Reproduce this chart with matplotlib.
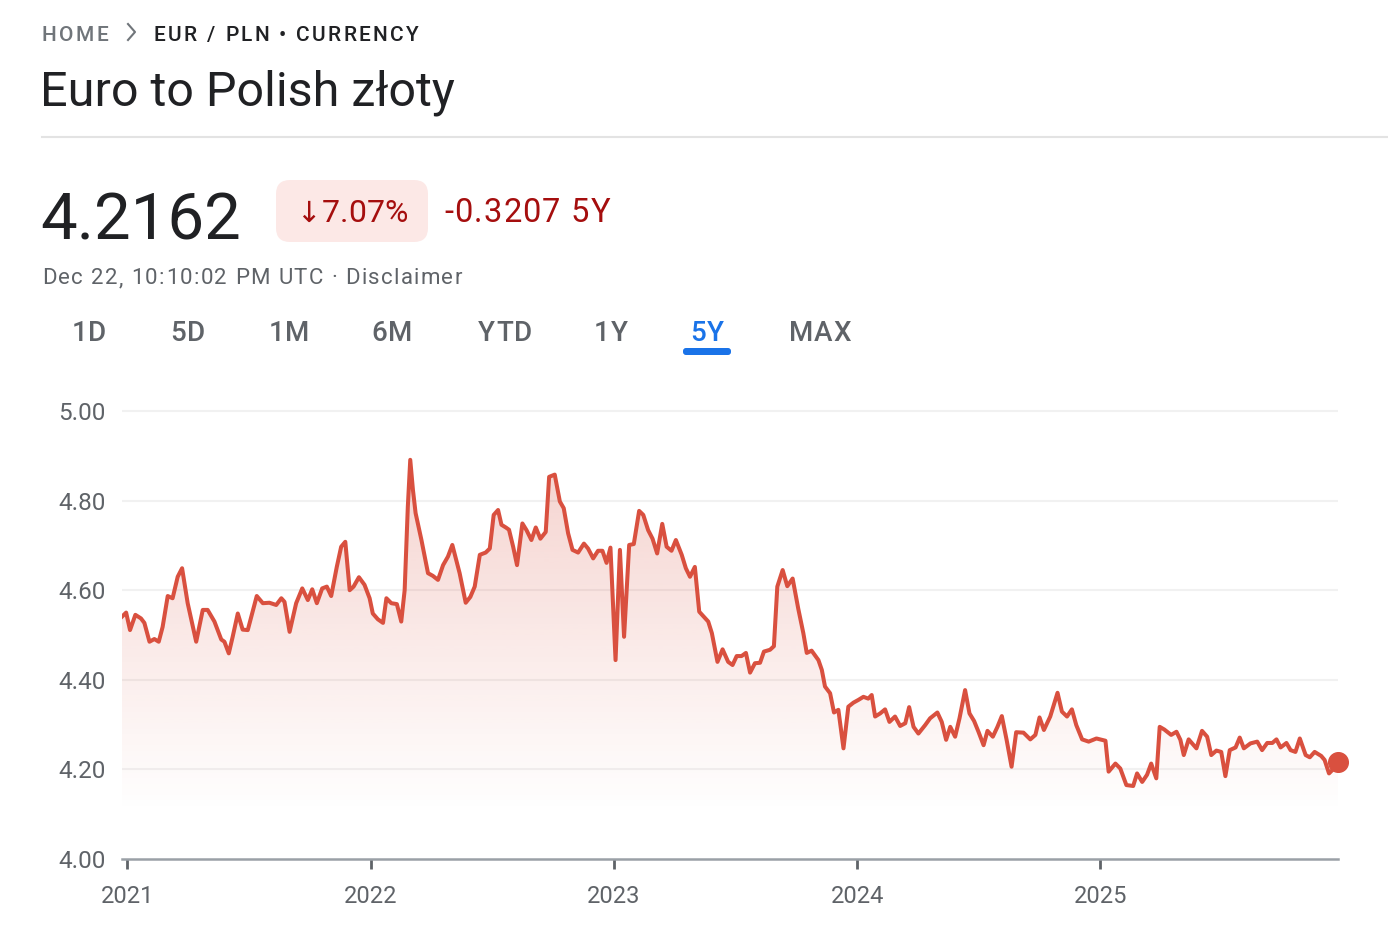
import numpy as np
import matplotlib
matplotlib.use('Agg')
import matplotlib.pyplot as plt
from matplotlib.patches import FancyBboxPatch, Polygon
from matplotlib.font_manager import findfont, FontProperties
from matplotlib.ft2font import FT2Font

# EUR/PLN, 5Y view (time as decimal year)
t_year = [2020.978, 2020.995, 2021.011, 2021.033, 2021.056, 2021.070, 2021.091, 2021.111, 2021.129, 2021.145,
          2021.166, 2021.186, 2021.207, 2021.225, 2021.248, 2021.283, 2021.310, 2021.330, 2021.358, 2021.386,
          2021.399, 2021.417, 2021.433, 2021.454, 2021.474, 2021.495, 2021.532, 2021.557, 2021.584, 2021.612,
          2021.633, 2021.646, 2021.667, 2021.694, 2021.719, 2021.742, 2021.760, 2021.779, 2021.801, 2021.820,
          2021.838, 2021.861, 2021.879, 2021.896, 2021.914, 2021.930, 2021.952, 2021.975, 2021.996, 2022.009,
          2022.030, 2022.051, 2022.065, 2022.085, 2022.108, 2022.126, 2022.140, 2022.153, 2022.163, 2022.174,
          2022.185, 2022.209, 2022.236, 2022.256, 2022.277, 2022.298, 2022.318, 2022.336, 2022.366, 2022.391,
          2022.410, 2022.428, 2022.449, 2022.473, 2022.490, 2022.506, 2022.524, 2022.538, 2022.556, 2022.569,
          2022.586, 2022.602, 2022.624, 2022.641, 2022.661, 2022.679, 2022.698, 2022.720, 2022.734, 2022.757,
          2022.778, 2022.794, 2022.812, 2022.830, 2022.853, 2022.877, 2022.894, 2022.915, 2022.935, 2022.953,
          2022.970, 2022.986, 2023.007, 2023.025, 2023.042, 2023.063, 2023.082, 2023.104, 2023.121, 2023.141,
          2023.159, 2023.178, 2023.199, 2023.217, 2023.237, 2023.255, 2023.279, 2023.296, 2023.313, 2023.333,
          2023.351, 2023.388, 2023.403, 2023.426, 2023.447, 2023.470, 2023.488, 2023.505, 2023.525, 2023.543,
          2023.560, 2023.580, 2023.601, 2023.617, 2023.642, 2023.658, 2023.672, 2023.694, 2023.713, 2023.735,
          2023.758, 2023.779, 2023.793, 2023.813, 2023.841, 2023.855, 2023.868, 2023.889, 2023.905, 2023.923,
          2023.944, 2023.964, 2023.985, 2024.005, 2024.026, 2024.046, 2024.060, 2024.074, 2024.095, 2024.115,
          2024.133, 2024.156, 2024.177, 2024.198, 2024.214, 2024.232, 2024.252, 2024.280, 2024.300, 2024.330,
          2024.348, 2024.366, 2024.383, 2024.403, 2024.421, 2024.444, 2024.462, 2024.481, 2024.499, 2024.520,
          2024.536, 2024.558, 2024.577, 2024.595, 2024.615, 2024.635, 2024.654, 2024.684, 2024.712, 2024.733,
          2024.750, 2024.768, 2024.794, 2024.824, 2024.842, 2024.863, 2024.883, 2024.901, 2024.925, 2024.952,
          2024.984, 2025.021, 2025.034, 2025.062, 2025.082, 2025.107, 2025.135, 2025.151, 2025.172, 2025.192,
          2025.209, 2025.230, 2025.244, 2025.263, 2025.291, 2025.313, 2025.329, 2025.343, 2025.363, 2025.395,
          2025.418, 2025.439, 2025.456, 2025.477, 2025.497, 2025.514, 2025.532, 2025.556, 2025.573, 2025.590,
          2025.617, 2025.645, 2025.665, 2025.686, 2025.707, 2025.724, 2025.741, 2025.765, 2025.782, 2025.802,
          2025.820, 2025.844, 2025.861, 2025.881, 2025.908, 2025.922, 2025.940, 2025.960, 2025.977]
eur_pln = [4.541, 4.550, 4.511, 4.545, 4.537, 4.527, 4.485, 4.491, 4.485, 4.518,
           4.587, 4.582, 4.630, 4.649, 4.571, 4.485, 4.556, 4.556, 4.530, 4.490,
           4.485, 4.459, 4.496, 4.548, 4.512, 4.511, 4.587, 4.571, 4.572, 4.567,
           4.582, 4.574, 4.507, 4.571, 4.604, 4.578, 4.602, 4.571, 4.604, 4.608,
           4.587, 4.652, 4.697, 4.708, 4.600, 4.608, 4.629, 4.612, 4.582, 4.548,
           4.535, 4.527, 4.582, 4.571, 4.569, 4.530, 4.600, 4.786, 4.891, 4.824,
           4.772, 4.712, 4.638, 4.632, 4.623, 4.656, 4.675, 4.701, 4.638, 4.572,
           4.585, 4.608, 4.679, 4.684, 4.693, 4.768, 4.779, 4.746, 4.740, 4.735,
           4.697, 4.656, 4.749, 4.734, 4.712, 4.740, 4.715, 4.730, 4.853, 4.858,
           4.798, 4.783, 4.727, 4.690, 4.684, 4.704, 4.693, 4.671, 4.688, 4.688,
           4.661, 4.695, 4.444, 4.690, 4.496, 4.701, 4.703, 4.777, 4.768, 4.734,
           4.715, 4.682, 4.748, 4.697, 4.688, 4.712, 4.679, 4.649, 4.630, 4.652,
           4.552, 4.530, 4.504, 4.440, 4.468, 4.440, 4.433, 4.453, 4.453, 4.460,
           4.416, 4.437, 4.438, 4.463, 4.467, 4.475, 4.608, 4.645, 4.609, 4.626,
           4.559, 4.504, 4.460, 4.465, 4.444, 4.422, 4.385, 4.370, 4.327, 4.333,
           4.247, 4.340, 4.349, 4.355, 4.362, 4.358, 4.366, 4.318, 4.325, 4.334,
           4.306, 4.318, 4.297, 4.303, 4.339, 4.295, 4.280, 4.299, 4.314, 4.327,
           4.306, 4.266, 4.295, 4.273, 4.314, 4.377, 4.325, 4.308, 4.284, 4.254,
           4.286, 4.273, 4.295, 4.319, 4.265, 4.206, 4.283, 4.282, 4.267, 4.277,
           4.316, 4.288, 4.318, 4.371, 4.329, 4.318, 4.334, 4.299, 4.267, 4.262,
           4.269, 4.264, 4.195, 4.213, 4.202, 4.165, 4.163, 4.191, 4.172, 4.188,
           4.213, 4.180, 4.295, 4.289, 4.277, 4.284, 4.266, 4.232, 4.267, 4.247,
           4.286, 4.273, 4.232, 4.242, 4.239, 4.185, 4.243, 4.249, 4.271, 4.247,
           4.258, 4.262, 4.243, 4.259, 4.259, 4.267, 4.249, 4.259, 4.243, 4.239,
           4.269, 4.232, 4.227, 4.239, 4.230, 4.221, 4.191, 4.202, 4.2162]

year_ticks = [2021, 2022, 2023, 2024, 2025]
y_ticks = [4.00, 4.20, 4.40, 4.60, 4.80, 5.00]
tabs = ['1D', '5D', '1M', '6M', 'YTD', '1Y', '5Y', 'MAX']
tab_x = [89, 188, 289, 392, 505, 611, 707, 820]

# colours
c_line = '#d9503f'
c_grey = '#5f6368'
c_dark = '#202124'
c_red_txt = '#a50e0e'
c_blue = '#1a73e8'

plt.rcParams['font.family'] = ['Roboto', 'DejaVu Sans']

fig = plt.figure(figsize=(13.88, 9.36), dpi=100)
fig.patch.set_facecolor('white')

# header overlay in pixel coords
hdr = fig.add_axes([0, 0, 1, 1])
hdr.set_xlim(0, 1388)
hdr.set_ylim(936, 0)
hdr.axis('off')


# text with letter spacing (px), baseline at y
def spaced(x, y, s, size, spacing, ha='left', weight='normal', **kw):
    font = FT2Font(findfont(FontProperties(family='Roboto', weight=weight)))
    font.set_size(size, 100)
    hf = plt.rcParams['text.hinting_factor']
    adv = [font.load_char(ord(ch)).horiAdvance / 64 / hf for ch in s]
    total = sum(adv) + spacing * (len(s) - 1)
    if ha == 'center':
        x -= total / 2
    for ch, a in zip(s, adv):
        hdr.text(x, y, ch, fontsize=size, fontweight=weight, ha='left', va='baseline', **kw)
        x += a + spacing


spaced(42, 41, 'HOME', 15, 2.4, weight='medium', color='#70757a')
hdr.plot([128, 135, 128], [24, 32, 40], color='#70757a', lw=1.5)
spaced(154, 41, 'EUR / PLN • CURRENCY', 15, 2.3, weight='medium', color=c_dark)
hdr.text(40, 106, 'Euro to Polish złoty', fontsize=34.9, color=c_dark, va='baseline', ha='left')
hdr.plot([42, 1388], [137, 137], color='#e3e3e3', lw=1.5)

hdr.text(40, 240, '4.2162', fontsize=47, color=c_dark, va='baseline', ha='left')
badge = FancyBboxPatch((276, 180), 152, 62, boxstyle='round,pad=0,rounding_size=14',
                       facecolor='#fce8e6', edgecolor='none')
hdr.add_patch(badge)
hdr.text(296, 222, '↓', fontsize=21, color=c_red_txt, va='baseline', ha='left', family='DejaVu Sans')
spaced(322, 222, '7.07%', 23, 0.0, color=c_red_txt)
spaced(444, 222, '-0.3207 5Y', 23.5, 1.2, color=c_red_txt)
spaced(42, 284, 'Dec 22, 10:10:02 PM UTC · Disclaimer', 16, 1.35, color=c_grey)

for lbl, xp in zip(tabs, tab_x):
    col = c_blue if lbl == '5Y' else c_grey
    spaced(xp, 341, lbl, 20, 1.0, ha='center', weight='medium', color=col)
uline = FancyBboxPatch((683, 348), 48, 7, boxstyle='round,pad=0,rounding_size=3',
                       facecolor=c_blue, edgecolor='none')
hdr.add_patch(uline)

# chart
y_lo, y_hi = 4.0, 5.02
ax_h = 448 * (y_hi - y_lo)
ax = fig.add_axes([122 / 1388, 1 - 859 / 936, 1216 / 1388, ax_h / 936])
ax.set_xlim(t_year[0], t_year[-1])
ax.set_ylim(y_lo, y_hi)
ax.patch.set_alpha(0)

for v in y_ticks[1:]:
    ax.axhline(v, color='#f1f1f1', lw=1.5, zorder=0)

# gradient fill under the line
base = 4.105
grad = np.zeros((256, 1, 4))
r, g, b = matplotlib.colors.to_rgb(c_line)
grad[:, 0, 0] = r
grad[:, 0, 1] = g
grad[:, 0, 2] = b
grad[:, 0, 3] = np.linspace(0.0, 0.25, 256)
im = ax.imshow(grad, extent=[t_year[0], t_year[-1], base, max(eur_pln)], origin='lower',
               aspect='auto', interpolation='bilinear', zorder=1)
poly = Polygon(list(zip(t_year, eur_pln)) + [(t_year[-1], base), (t_year[0], base)],
               closed=True, facecolor='none', edgecolor='none')
ax.add_patch(poly)
im.set_clip_path(poly)

ax.plot(t_year, eur_pln, color=c_line, lw=2.9, solid_joinstyle='round', zorder=3)
ax.scatter([t_year[-1]], [eur_pln[-1]], s=200, color=c_line, zorder=4, clip_on=False)

for s in ['top', 'right', 'left']:
    ax.spines[s].set_visible(False)
ax.spines['bottom'].set_color('#9aa0a6')
ax.spines['bottom'].set_linewidth(1.8)

ax.set_xticks(year_ticks)
ax.set_xticklabels([str(y) for y in year_ticks])
ax.set_yticks(y_ticks)
ax.set_yticklabels(['%.2f' % v for v in y_ticks])
ax.tick_params(axis='x', length=7, width=2, color=c_grey, pad=12, labelsize=17, labelcolor=c_grey)
ax.tick_params(axis='y', length=0, pad=12, labelsize=17.5, labelcolor=c_grey)

fig.savefig('out.png', dpi=100)
